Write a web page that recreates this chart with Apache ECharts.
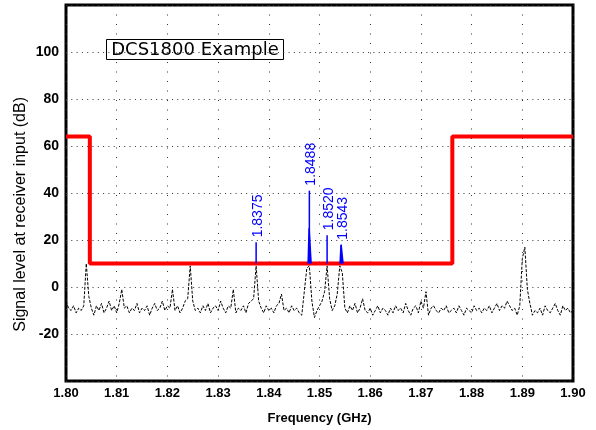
<!DOCTYPE html>
<html>
<head>
<meta charset="utf-8">
<title>DCS1800 Example</title>
<script src="https://cdn.jsdelivr.net/npm/echarts@6/dist/echarts.min.js"></script>
<style>
  html, body { margin: 0; padding: 0; background: #fff; }
  #chart { width: 596px; height: 430px; }
</style>
</head>
<body>
<div id="chart"></div>
<script>
  // axis ticks
  var xTicks = [1.80, 1.81, 1.82, 1.83, 1.84, 1.85, 1.86, 1.87, 1.88, 1.89, 1.90]
  var yTickLabels = [-20, 0, 20, 40, 60, 80, 100]

  // measured noise floor, one reading every 0.5 MHz from 1.80 GHz
  var noiseStart = 1.80
  var noiseStep = 0.0005
  var noiseLevel = [
    -6, -9, -10, -8, -11, -9, -10, -8, 10, -4,
    -9, -12, -8, -10, -7, -11, -9, -6, -10, -8,
    -11, -7, -1, -9, -8, -11, -9, -10, -7, -11,
    -9, -10, -8, -12, -9, -7, -10, -9, -6, -10,
    -8, -9, -1, -10, -8, -11, -9, -6, -5, 9,
    -6, -10, -9, -11, -8, -10, -7, -11, -9, -8,
    -10, -6, -9, -11, -8, -9, -1, -11, -9, -10,
    -8, -11, -7, -6, -5, 9, -6, -9, -11, -8,
    -10, -9, -11, -8, -7, -3, -10, -9, -11, -8,
    -10, -9, -11, -12, -2, 8, 9, -6, -13, -10,
    -8, -6, -2, 9, -5, -10, -8, -3, 9, 6,
    -9, -11, -8, -10, -7, -11, -9, -5, -10, -11,
    -9, -12, -10, -8, -11, -9, -10, -12, -9, -11,
    -8, -10, -9, -11, -7, -10, -12, -9, -8, -11,
    -6, -9, -2, -12, -9, -8, -10, -11, -9, -10,
    -8, -11, -10, -9, -11, -8, -10, -12, -9, -10,
    -11, -8, -10, -9, -11, -9, -10, -8, -11, -9,
    -7, -10, -8, -9, -6, -8, -10, -9, -12, -8,
    12, 17, -1, -7, -12, -10, -11, -9, -12, -8,
    -10, -11, -9, -7, -10, -12, -8, -10, -9, -11,
    -10
  ]

  // receiver mask (red)
  var maskFreq = [1.80, 1.8047, 1.8047, 1.8762, 1.8762, 1.90]
  var maskLevel = [64, 64, 10, 10, 64, 64]

  // marked carriers (blue)
  var peakFreq = [1.8375, 1.8480, 1.8515, 1.8543]
  var peakTop = [19, 41, 22, 18]
  var peakBody = [10, 25, 10, 18]
  var peakLabel = ['1.8375', '1.8488', '1.8520', '1.8543']
  var maskFloor = 10

  var noiseData = noiseLevel.map(function(v, i) {
    return [+(noiseStart + i * noiseStep).toFixed(4), v]
  })
  var maskData = maskFreq.map(function(f, i) {
    return [f, maskLevel[i]]
  })
  var peakData = peakFreq.map(function(f, i) {
    return [f, peakTop[i], peakBody[i]]
  })

  var chart = echarts.init(document.getElementById('chart'))

  var option = {
    animation: false,
    backgroundColor: '#fff',
    grid: {
      left: 66,
      right: 23,
      top: 5,
      bottom: 48,
      show: true,
      borderColor: '#000',
      borderWidth: 3,
      backgroundColor: 'transparent'
    },
    xAxis: {
      type: 'value',
      min: xTicks[0],
      max: xTicks[xTicks.length - 1],
      interval: 0.01,
      name: 'Frequency (GHz)',
      nameLocation: 'middle',
      nameGap: 31,
      nameTextStyle: {
        fontFamily: 'Liberation Sans',
        fontWeight: 'bold',
        fontSize: 13,
        color: '#000'
      },
      axisLine: { show: false },
      axisTick: { show: false },
      axisLabel: {
        margin: 6,
        fontFamily: 'Liberation Sans',
        fontWeight: 'bold',
        fontSize: 13,
        color: '#000',
        formatter: function(v) {
          return v.toFixed(2)
        }
      },
      splitLine: {
        show: true,
        lineStyle: {
          color: '#333',
          width: 1,
          type: [1, 8.5]
        }
      }
    },
    yAxis: {
      type: 'value',
      min: -40,
      max: 120,
      interval: 20,
      axisLine: { show: false },
      axisTick: { show: false },
      axisLabel: {
        margin: 7,
        fontFamily: 'Liberation Sans',
        fontWeight: 'bold',
        fontSize: 14,
        color: '#000',
        formatter: function(v) {
          return yTickLabels.indexOf(v) >= 0 ? String(v) : ''
        }
      },
      splitLine: {
        show: true,
        lineStyle: {
          color: '#333',
          width: 1,
          type: [1, 4.3]
        }
      }
    },
    graphic: [
      {
        type: 'text',
        left: 13,
        top: 97,
        rotation: Math.PI / 2,
        style: {
          text: 'Signal level at receiver input (dB)',
          font: '16px "Liberation Sans"',
          fill: '#000'
        }
      },
      {
        type: 'group',
        left: 106,
        top: 39,
        z: 100,
        children: [
          {
            type: 'rect',
            shape: { x: 0, y: 0, width: 177, height: 20 },
            style: { fill: '#fff', stroke: '#000', lineWidth: 1 }
          },
          {
            type: 'text',
            x: 88.5,
            y: 10.5,
            style: {
              text: 'DCS1800 Example',
              font: '18px "DejaVu Sans"',
              fill: '#000',
              align: 'center',
              verticalAlign: 'middle'
            }
          }
        ]
      }
    ],
    series: [
      {
        name: 'noise',
        type: 'line',
        symbol: 'none',
        z: 2,
        lineStyle: {
          color: '#000',
          width: 1,
          type: [3, 1.5]
        },
        data: noiseData
      },
      {
        name: 'mask',
        type: 'line',
        symbol: 'none',
        z: 3,
        lineStyle: {
          color: '#ff0000',
          width: 4
        },
        data: maskData
      },
      {
        name: 'carriers',
        type: 'custom',
        z: 4,
        data: peakData,
        renderItem: function(params, api) {
          var f = api.value(0)
          var base = api.coord([f, maskFloor])
          var top = api.coord([f, api.value(1)])
          var body = api.coord([f, api.value(2)])
          var children = [{
            type: 'line',
            shape: { x1: base[0], y1: base[1], x2: top[0], y2: top[1] },
            style: { stroke: '#0000ff', lineWidth: 1.5 }
          }]
          if (api.value(2) > maskFloor) {
            children.push({
              type: 'polygon',
              shape: {
                points: [
                  [base[0] - 2, base[1]], [base[0] + 2.5, base[1]],
                  [body[0] + 0.5, body[1]], [body[0] - 1, body[1]]
                ]
              },
              style: { fill: '#0000ff' }
            })
          }
          children.push({
            type: 'text',
            x: top[0] + 2,
            y: top[1] - 5,
            rotation: Math.PI / 2,
            style: {
              text: peakLabel[params.dataIndex],
              font: '14px "Liberation Sans"',
              fill: '#0000ff',
              align: 'left',
              verticalAlign: 'middle'
            }
          })
          return { type: 'group', children: children }
        }
      }
    ]
  }

  chart.setOption(option)
</script>
</body>
</html>
